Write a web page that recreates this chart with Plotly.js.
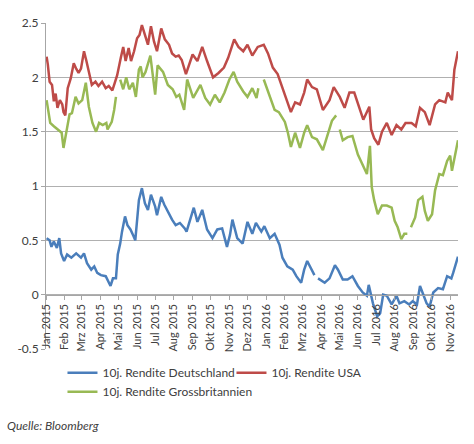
<!DOCTYPE html>
<html><head><meta charset="utf-8">
<script src="https://cdn.plot.ly/plotly-3.0.1.min.js"></script>
<style>html,body{margin:0;padding:0;background:#fff}#chart{width:474px;height:444px}</style>
</head><body><div id="chart"></div>
<script>
var usDates = ["2015-01-02","2015-01-04","2015-01-07","2015-01-11","2015-01-14","2015-01-17","2015-01-20","2015-01-24","2015-01-28","2015-01-30","2015-02-02","2015-02-06","2015-02-11","2015-02-16","2015-02-20","2015-02-24","2015-02-28","2015-03-05","2015-03-09","2015-03-13","2015-03-18","2015-03-24","2015-03-29","2015-04-04","2015-04-10","2015-04-15","2015-04-21","2015-04-25","2015-04-29","2015-05-05","2015-05-09","2015-05-13","2015-05-18","2015-05-22","2015-05-27","2015-06-01","2015-06-05","2015-06-09","2015-06-15","2015-06-19","2015-06-24","2015-06-29","2015-07-04","2015-07-11","2015-07-17","2015-07-24","2015-07-29","2015-08-04","2015-08-09","2015-08-14","2015-08-21","2015-09-01","2015-09-09","2015-09-17","2015-09-25","2015-10-05","2015-10-14","2015-10-23","2015-10-30","2015-11-09","2015-11-16","2015-11-24","2015-12-01","2015-12-09","2015-12-18","2015-12-28","2016-01-04","2016-01-12","2016-01-20","2016-01-28","2016-02-03","2016-02-11","2016-02-18","2016-02-26","2016-03-04","2016-03-09","2016-03-17","2016-03-25","2016-04-04","2016-04-15","2016-04-22","2016-05-02","2016-05-10","2016-05-18","2016-05-26","2016-06-03","2016-06-10","2016-06-20","2016-06-23","2016-06-28","2016-07-05","2016-07-11","2016-07-19","2016-07-27","2016-08-04","2016-08-12","2016-08-19","2016-08-29","2016-09-05","2016-09-12","2016-09-20","2016-09-28","2016-10-07","2016-10-14","2016-10-24","2016-10-28","2016-11-04","2016-11-08","2016-11-14"];
var usYield = [2.19,2.12,1.96,1.93,1.78,1.85,1.72,1.79,1.75,1.68,1.65,1.9,1.99,2.13,2.08,2.04,2.08,2.24,2.15,2.04,1.93,1.96,1.92,1.96,1.9,1.92,1.88,1.95,2.02,2.18,2.28,2.15,2.27,2.15,2.24,2.36,2.39,2.48,2.36,2.3,2.47,2.33,2.24,2.45,2.35,2.3,2.22,2.19,2.2,2.16,2.03,2.21,2.15,2.28,2.15,2.0,2.04,2.09,2.18,2.35,2.28,2.24,2.3,2.2,2.28,2.3,2.22,2.09,2.03,1.91,1.82,1.68,1.77,1.75,1.86,1.98,1.91,1.89,1.7,1.79,1.91,1.82,1.72,1.86,1.86,1.72,1.61,1.73,1.52,1.44,1.38,1.5,1.58,1.47,1.56,1.52,1.58,1.58,1.55,1.72,1.68,1.56,1.75,1.79,1.77,1.86,1.79,2.07,2.24];

var ukDates = ["2015-01-02","2015-01-08","2015-01-14","2015-01-21","2015-01-27","2015-01-30","2015-02-03","2015-02-09","2015-02-13","2015-02-19","2015-02-24","2015-03-02","2015-03-08","2015-03-13","2015-03-19","2015-03-25","2015-03-30","2015-04-05","2015-04-11","2015-04-13","2015-04-20","2015-04-24","2015-04-27","2015-04-30","2015-05-04","2015-05-09","2015-05-14","2015-05-19","2015-05-25","2015-05-30","2015-06-04","2015-06-07","2015-06-10","2015-06-15","2015-06-23","2015-06-26","2015-07-01","2015-07-05","2015-07-14","2015-07-22","2015-07-30","2015-08-05","2015-08-10","2015-08-18","2015-08-23","2015-09-02","2015-09-07","2015-09-14","2015-09-22","2015-09-30","2015-10-08","2015-10-16","2015-10-24","2015-11-01","2015-11-08","2015-11-14","2015-11-24","2015-12-01","2015-12-09","2015-12-16","2015-12-19","2015-12-23","2015-12-28","2016-01-07","2016-01-15","2016-01-22","2016-02-01","2016-02-06","2016-02-11","2016-02-18","2016-02-26","2016-03-04","2016-03-09","2016-03-17","2016-03-25","2016-04-04","2016-04-11","2016-04-19","2016-04-26","2016-04-29","2016-05-02","2016-05-07","2016-05-15","2016-05-23","2016-06-01","2016-06-09","2016-06-16","2016-06-21","2016-06-24","2016-06-28","2016-07-04","2016-07-11","2016-07-19","2016-07-27","2016-08-01","2016-08-06","2016-08-12","2016-08-17","2016-08-22","2016-08-25","2016-08-28","2016-09-04","2016-09-09","2016-09-16","2016-09-20","2016-09-25","2016-10-02","2016-10-07","2016-10-14","2016-10-20","2016-10-27","2016-11-01","2016-11-04","2016-11-09","2016-11-14"];
var ukYield = [1.79,1.58,1.55,1.52,1.49,1.35,1.49,1.66,1.67,1.82,1.76,1.79,1.95,1.73,1.58,1.5,1.58,1.56,1.58,1.52,1.59,1.7,1.82,null,1.98,1.89,2.0,1.89,1.95,1.82,2.07,2.1,2.0,2.05,2.2,2.05,1.84,2.11,2.05,1.93,1.89,1.82,1.84,1.7,1.98,1.81,1.86,1.93,1.81,1.75,1.84,1.77,1.86,1.98,2.05,1.96,1.87,1.82,1.9,1.81,1.9,null,1.98,1.82,1.7,1.68,1.59,1.49,1.36,1.49,1.35,1.49,1.56,1.45,1.43,1.33,1.45,1.6,1.65,null,1.52,1.42,1.45,1.46,1.29,1.2,1.11,1.37,0.99,0.87,0.74,0.82,0.82,0.8,0.68,0.62,0.51,0.56,0.56,null,0.62,0.71,0.87,0.9,0.77,0.68,0.74,0.96,1.11,1.1,1.23,1.28,1.14,1.29,1.42];

var deDates = ["2015-01-02","2015-01-07","2015-01-10","2015-01-14","2015-01-19","2015-01-23","2015-01-26","2015-01-31","2015-02-05","2015-02-12","2015-02-20","2015-02-28","2015-03-05","2015-03-10","2015-03-17","2015-03-22","2015-03-27","2015-04-02","2015-04-10","2015-04-15","2015-04-18","2015-04-22","2015-04-27","2015-04-30","2015-05-04","2015-05-07","2015-05-12","2015-05-16","2015-05-21","2015-05-26","2015-05-29","2015-06-04","2015-06-09","2015-06-14","2015-06-19","2015-06-24","2015-07-01","2015-07-04","2015-07-11","2015-07-16","2015-07-22","2015-07-29","2015-08-04","2015-08-11","2015-08-19","2015-08-22","2015-09-03","2015-09-09","2015-09-17","2015-09-25","2015-10-04","2015-10-12","2015-10-20","2015-10-28","2015-11-02","2015-11-06","2015-11-14","2015-11-23","2015-12-01","2015-12-09","2015-12-15","2015-12-24","2015-12-29","2016-01-07","2016-01-15","2016-01-23","2016-01-28","2016-02-05","2016-02-14","2016-02-20","2016-02-28","2016-03-04","2016-03-09","2016-03-16","2016-03-21","2016-03-24","2016-03-27","2016-04-07","2016-04-15","2016-04-24","2016-04-29","2016-05-07","2016-05-15","2016-05-23","2016-06-01","2016-06-09","2016-06-16","2016-06-19","2016-06-26","2016-07-03","2016-07-08","2016-07-13","2016-07-19","2016-07-27","2016-08-04","2016-08-09","2016-08-17","2016-08-25","2016-08-31","2016-09-07","2016-09-12","2016-09-16","2016-09-23","2016-09-28","2016-10-04","2016-10-12","2016-10-20","2016-10-27","2016-11-03","2016-11-06","2016-11-14"];
var deYield = [0.52,0.5,0.44,0.49,0.43,0.52,0.38,0.31,0.37,0.34,0.38,0.34,0.38,0.29,0.23,0.26,0.2,0.18,0.17,0.11,0.08,0.15,0.15,0.37,0.47,0.58,0.72,0.64,0.6,0.54,0.5,0.87,0.98,0.84,0.78,0.92,0.81,0.73,0.9,0.83,0.76,0.69,0.64,0.66,0.61,0.58,0.8,0.67,0.78,0.6,0.52,0.6,0.61,0.44,0.55,0.69,0.52,0.47,0.67,0.56,0.66,0.58,0.63,0.52,0.56,0.46,0.34,0.26,0.23,0.17,0.11,0.23,0.31,0.23,0.18,null,0.15,0.11,0.15,0.27,0.23,0.14,0.14,0.17,0.08,0.02,-0.01,0.09,-0.08,-0.2,-0.17,0.0,-0.01,-0.09,-0.01,-0.08,-0.06,-0.09,-0.06,-0.09,0.08,0.02,-0.08,-0.11,0.02,0.06,0.05,0.17,0.15,0.2,0.35];

var seriesNames = ["10j. Rendite Deutschland","10j. Rendite USA","10j. Rendite Grossbritannien"];
var tickDates = ["2015-01-01","2015-02-01","2015-03-01","2015-04-01","2015-05-01","2015-06-01","2015-07-01","2015-08-01","2015-09-01","2015-10-01","2015-11-01","2015-12-01","2016-01-01","2016-02-01","2016-03-01","2016-04-01","2016-05-01","2016-06-01","2016-07-01","2016-08-01","2016-09-01","2016-10-01","2016-11-01"];
var tickLabels = ["Jan 2015","Feb 2015","Mrz 2015","Apr 2015","Mai 2015","Jun 2015","Jul 2015","Aug 2015","Sep 2015","Okt 2015","Nov 2015","Dez 2015","Jan 2016","Feb 2016","Mrz 2016","Apr 2016","Mai 2016","Jun 2016","Jul 2016","Aug 2016","Sep 2016","Okt 2016","Nov 2016"];
var yTicks = [-0.5,0,0.5,1,1.5,2,2.5];
var yTickLabels = ["-0.5","0","0.5","1","1.5","2","2.5"];
var sourceText = "Quelle: Bloomberg";

var FONT = "Lato, 'Open Sans', sans-serif";
function tr(x, y, name, color) {
  return {x: x, y: y, name: name, type: "scatter", mode: "lines", connectgaps: false,
          line: {color: color, width: 2.5}, hoverinfo: "skip"};
}
var data = [
  tr(deDates, deYield, seriesNames[0], "#4a7ebb"),
  tr(usDates, usYield, seriesNames[1], "#be4b48"),
  tr(ukDates, ukYield, seriesNames[2], "#98b954")
];
var layout = {
  width: 474, height: 444,
  margin: {l: 46, r: 16, t: 23, b: 95, autoexpand: false},
  paper_bgcolor: "#fff", plot_bgcolor: "#fff",
  font: {family: FONT, size: 11, color: "#404040"},
  showlegend: true,
  legend: {orientation: "h", x: 0.04, xanchor: "left", yref: "container", y: 0.193, yanchor: "top",
           entrywidth: 124, font: {size: 12, color: "#404040"}, tracegroupgap: 0},
  xaxis: {type: "date", range: ["2015-01-01", "2016-11-14"],
          tickmode: "array", tickvals: tickDates, ticktext: tickLabels, tickangle: -90,
          anchor: "free", position: 1/6,
          showgrid: false, zeroline: false, showline: true, linecolor: "#a6a6a6", linewidth: 1,
          ticks: "outside", ticklen: 4, tickcolor: "#a6a6a6",
          tickfont: {size: 11, color: "#404040"}},
  yaxis: {range: [-0.5, 2.5], tickmode: "array", tickvals: yTicks, ticktext: yTickLabels,
          showgrid: true, gridcolor: "#b0b0b0", gridwidth: 1, zeroline: false,
          showline: true, linecolor: "#a6a6a6", linewidth: 1,
          ticks: "outside", ticklen: 4, tickcolor: "#a6a6a6",
          tickfont: {size: 12, color: "#404040"}},
  annotations: [{text: "<i>" + sourceText + "</i>", xref: "paper", yref: "paper",
                 x: -0.1, y: -0.236, xanchor: "left", yanchor: "middle", showarrow: false,
                 font: {size: 12, color: "#404040"}}]
};
Plotly.newPlot("chart", data, layout, {staticPlot: true, displayModeBar: false});
</script>
</body></html>
